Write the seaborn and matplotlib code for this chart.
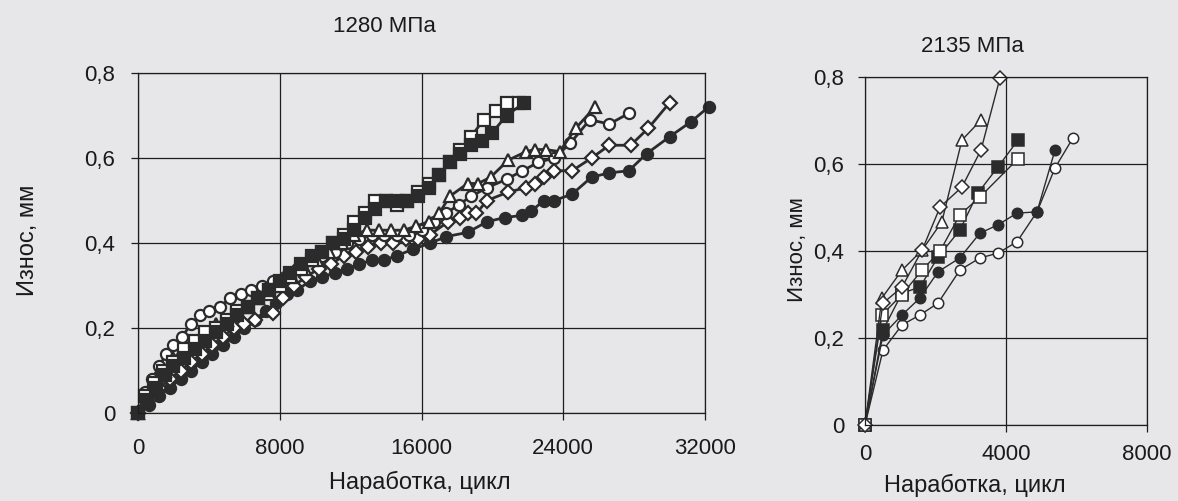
import matplotlib
matplotlib.use("Agg")
import matplotlib.pyplot as plt
import seaborn as sns

# ---- 1280 МПа (левый график) ----
l_fsq_x = [0, 500, 1000, 1500, 2000, 2600, 3200, 3800, 4400, 5000, 5600, 6200, 6800, 7400, 8000, 8600, 9200, 9800,
           10400, 11000, 11600, 12200, 12800, 13400, 14000, 14600, 15200, 15800, 16400, 17000, 17600, 18200, 18800,
           19400, 20000, 20800, 21800]
l_fsq_y = [0, 0.03, 0.06, 0.09, 0.11, 0.13, 0.15, 0.17, 0.19, 0.21, 0.23, 0.25, 0.27, 0.29, 0.31, 0.33, 0.35, 0.37,
           0.38, 0.40, 0.41, 0.43, 0.46, 0.48, 0.50, 0.50, 0.50, 0.51, 0.53, 0.56, 0.59, 0.61, 0.63, 0.64, 0.66,
           0.70, 0.73]

l_osq_x = [0, 400, 900, 1400, 2000, 2600, 3200, 3800, 4400, 5000, 5600, 6200, 6800, 7400, 8000, 8600, 9200, 9800,
           10400, 11000, 11600, 12200, 12800, 13400, 14000, 14600, 15200, 15800, 16400, 17000, 17600, 18200, 18800,
           19500, 20200, 20800, 21500]
l_osq_y = [0, 0.04, 0.07, 0.10, 0.12, 0.15, 0.17, 0.19, 0.20, 0.22, 0.24, 0.25, 0.27, 0.29, 0.30, 0.32, 0.34, 0.36,
           0.38, 0.40, 0.42, 0.45, 0.47, 0.50, 0.50, 0.49, 0.50, 0.52, 0.54, 0.56, 0.59, 0.62, 0.65, 0.69, 0.71,
           0.73, 0.73]

l_tri_x = [0, 500, 1000, 1500, 2000, 2600, 3200, 3800, 4400, 5000, 5600, 6200, 6800, 7400, 8000, 8700, 9400, 10100,
           10800, 11500, 12200, 12900, 13600, 14300, 15000, 15700, 16400, 17000, 17600, 18600, 19200, 19900, 20900,
           21900, 22400, 23000, 23800, 24700, 25800]
l_tri_y = [0, 0.04, 0.07, 0.10, 0.13, 0.15, 0.17, 0.19, 0.21, 0.22, 0.24, 0.25, 0.27, 0.28, 0.30, 0.32, 0.34, 0.36,
           0.38, 0.40, 0.42, 0.43, 0.43, 0.43, 0.43, 0.44, 0.45, 0.47, 0.51, 0.54, 0.54, 0.555, 0.595, 0.615, 0.62,
           0.62, 0.615, 0.67, 0.72]

l_oci_x = [0, 400, 800, 1200, 1600, 2000, 2500, 3000, 3500, 4000, 4600, 5200, 5800, 6400, 7000, 7600, 8300, 9000,
           9700, 10400, 11100, 11800, 12500, 13200, 13900, 14600, 15300, 16000, 16700, 17400, 18100, 18800, 19700,
           20800, 21700, 22600, 23500, 24400, 25500, 26600, 27700]
l_oci_y = [0, 0.05, 0.08, 0.11, 0.14, 0.16, 0.18, 0.21, 0.23, 0.24, 0.25, 0.27, 0.28, 0.29, 0.30, 0.31, 0.32, 0.34,
           0.36, 0.37, 0.38, 0.40, 0.41, 0.42, 0.42, 0.42, 0.42, 0.43, 0.45, 0.47, 0.49, 0.51, 0.53, 0.55, 0.57,
           0.59, 0.60, 0.635, 0.69, 0.68, 0.705]

l_dia_x = [0, 600, 1200, 1800, 2400, 3000, 3600, 4200, 4800, 5400, 6000, 6600, 7600, 8200, 8800, 9500, 10200, 10900,
           11600, 12300, 13000, 13700, 14400, 15100, 15800, 16500, 17500, 18200, 18600, 19100, 19700, 20900, 21900,
           22400, 22900, 23500, 24500, 25600, 26600, 27800, 28800, 30000]
l_dia_y = [0, 0.03, 0.06, 0.08, 0.10, 0.12, 0.14, 0.16, 0.18, 0.20, 0.21, 0.22, 0.235, 0.27, 0.30, 0.32, 0.34, 0.35,
           0.37, 0.38, 0.39, 0.40, 0.40, 0.41, 0.41, 0.42, 0.45, 0.46, 0.47, 0.47, 0.50, 0.52, 0.53, 0.54, 0.555,
           0.57, 0.57, 0.60, 0.63, 0.63, 0.67, 0.73]

l_fci_x = [0, 600, 1200, 1800, 2400, 3000, 3600, 4200, 4800, 5400, 6000, 6600, 7200, 7800, 8400, 9000, 9700, 10400,
           11100, 11800, 12500, 13200, 13900, 14600, 15500, 16500, 17400, 18600, 19700, 20700, 21700, 22200, 22900,
           23500, 24500, 25600, 26600, 27700, 28700, 30000, 31200, 32200]
l_fci_y = [0, 0.02, 0.04, 0.06, 0.08, 0.10, 0.12, 0.14, 0.16, 0.18, 0.20, 0.22, 0.24, 0.26, 0.28, 0.29, 0.31, 0.32,
           0.33, 0.34, 0.35, 0.36, 0.36, 0.37, 0.385, 0.40, 0.415, 0.425, 0.45, 0.46, 0.465, 0.475, 0.50, 0.50,
           0.515, 0.555, 0.565, 0.57, 0.61, 0.65, 0.685, 0.72]

# ---- 2135 МПа (правый график) ----
r_dia_x = [0, 510, 1050, 1620, 2130, 2750, 3290, 3830]
r_dia_y = [0, 0.28, 0.317, 0.402, 0.501, 0.547, 0.632, 0.798]
r_tri_x = [0, 480, 1050, 1620, 2180, 2750, 3290]
r_tri_y = [0, 0.292, 0.356, 0.402, 0.467, 0.655, 0.701]
r_osq_x = [0, 480, 1050, 1620, 2130, 2690, 3260, 4340]
r_osq_y = [0, 0.253, 0.30, 0.356, 0.40, 0.483, 0.524, 0.612]
r_fsq_x = [0, 510, 1050, 1560, 2070, 2690, 3200, 3770, 4340]
r_fsq_y = [0, 0.218, 0.303, 0.317, 0.386, 0.448, 0.533, 0.593, 0.655]
r_fci_x = [0, 510, 1050, 1560, 2070, 2690, 3260, 3770, 4310, 4880, 5390]
r_fci_y = [0, 0.207, 0.253, 0.292, 0.352, 0.384, 0.441, 0.46, 0.487, 0.49, 0.632]
r_oci_x = [0, 510, 1050, 1560, 2070, 2690, 3260, 3770, 4310, 4880, 5390, 5900]
r_oci_y = [0, 0.172, 0.23, 0.253, 0.28, 0.356, 0.384, 0.395, 0.421, 0.49, 0.591, 0.66]

y_ticks = [0, 0.2, 0.4, 0.6, 0.8]
y_labels = ["0", "0,2", "0,4", "0,6", "0,8"]
l_x_ticks = [0, 8000, 16000, 24000, 32000]
r_x_ticks = [0, 4000, 8000]

ink = "#2b2b2b"
bg = "#e7e7e9"

sns.set_theme(style="white")
plt.rcParams['font.family'] = ['Liberation Sans', 'DejaVu Sans']

W, H = 1178, 501
fig = plt.figure(figsize=(W / 100, H / 100), dpi=100, facecolor=bg)
ax1 = fig.add_axes([138 / W, 1 - 413 / H, 567 / W, 340 / H])
ax2 = fig.add_axes([865 / W, 1 - 425 / H, 282 / W, 348 / H])


def draw(ax, x, y, marker, filled, ms, lw, mew):
    sns.lineplot(x=x, y=y, ax=ax, color=ink, lw=lw, marker=marker, markersize=ms,
                 markerfacecolor=ink if filled else "white", markeredgecolor=ink,
                 markeredgewidth=mew, estimator=None, sort=False, clip_on=False)


# левый график (линии и маркеры толще)
draw(ax1, l_fci_x, l_fci_y, "o", True, 8, 2.0, 1.6)
draw(ax1, l_dia_x, l_dia_y, "D", False, 7.5, 2.0, 1.6)
draw(ax1, l_oci_x, l_oci_y, "o", False, 8, 2.0, 1.6)
draw(ax1, l_tri_x, l_tri_y, "^", False, 8.5, 2.0, 1.6)
draw(ax1, l_osq_x, l_osq_y, "s", False, 8.5, 2.0, 1.6)
draw(ax1, l_fsq_x, l_fsq_y, "s", True, 8.5, 2.0, 1.6)

# правый график
draw(ax2, r_oci_x, r_oci_y, "o", False, 7.5, 1.0, 1.1)
draw(ax2, r_fci_x, r_fci_y, "o", True, 7.5, 1.0, 1.1)
draw(ax2, r_fsq_x, r_fsq_y, "s", True, 8, 1.0, 1.1)
draw(ax2, r_osq_x, r_osq_y, "s", False, 8, 1.0, 1.1)
draw(ax2, r_tri_x, r_tri_y, "^", False, 8.5, 1.0, 1.1)
draw(ax2, r_dia_x, r_dia_y, "D", False, 7, 1.0, 1.1)

for ax, xt, xmax, ypad, xpad in [(ax1, l_x_ticks, 32000, 11.5, 13), (ax2, r_x_ticks, 8000, 10, 9)]:
    ax.set_facecolor(bg)
    ax.set_xlim(0, xmax)
    ax.set_ylim(0, 0.8)
    ax.set_xticks(xt)
    ax.set_xticklabels([str(v) for v in xt])
    ax.set_yticks(y_ticks)
    ax.set_yticklabels(y_labels)
    ax.grid(True, color="#1e1e1e", lw=0.9)
    ax.set_axisbelow(True)
    for s in ax.spines.values():
        s.set_color("#1e1e1e")
        s.set_linewidth(0.9)
    ax.tick_params(axis="both", direction="out", length=5, width=0.9, color="#1e1e1e",
                   labelsize=16, labelcolor="#1a1a1a", left=True, bottom=True)
    ax.tick_params(axis="y", pad=ypad)
    ax.tick_params(axis="x", pad=xpad)
    ax.set_xlabel("")
    ax.set_ylabel("")

tk = dict(color="#1a1a1a", ha="center", va="center")
fig.text(384 / W, 1 - 27 / H, "1280 МПа", fontsize=16, **tk)
fig.text(972 / W, 1 - 47 / H, "2135 МПа", fontsize=16, **tk)
fig.text(28 / W, 1 - 240 / H, "Износ, мм", fontsize=17, rotation=90, **tk)
fig.text(797 / W, 1 - 250 / H, "Износ, мм", fontsize=16, rotation=90, **tk)
fig.text(420 / W, 1 - 482 / H, "Наработка, цикл", fontsize=17, **tk)
fig.text(975 / W, 1 - 485 / H, "Наработка, цикл", fontsize=17, **tk)

fig.savefig("out.png", dpi=100, facecolor=bg)
